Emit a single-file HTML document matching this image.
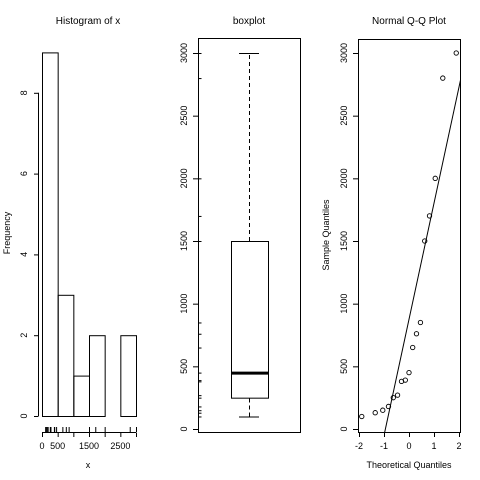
<!DOCTYPE html>
<html><head><meta charset="utf-8"><style>
html,body{margin:0;padding:0;background:#fff;width:480px;height:480px;overflow:hidden;}
svg{display:block;font-family:"Liberation Sans",sans-serif;overflow:hidden;}
</style></head><body>
<svg id="c" width="480" height="480" viewBox="0 0 480 480"></svg>
<script>
const values = [100,130,150,180,250,270,380,390,450,650,760,850,1500,1700,2000,2800,3000];
const histBreaks = [0,500,1000,1500,2000,2500,3000];
const histTicks = [0,500,1500,2500];
const histMinorTicks = [0,500,1000,1500,2000,2500,3000];
const freqTicks = [0,2,4,6,8];
const valueTicks = [0,500,1000,1500,2000,2500,3000];
const qqXTicks = [-2,-1,0,1,2];

const svg = document.getElementById('c');
const NS = 'http://www.w3.org/2000/svg';
function el(tag, attrs, parent){const e=document.createElementNS(NS,tag);for(const k in attrs)e.setAttribute(k,attrs[k]);(parent||svg).appendChild(e);return e;}
function line(x1,y1,x2,y2,p,extra){return el('line',Object.assign({x1,y1,x2,y2,stroke:'#000','stroke-width':1},extra||{}),p);}
function text(x,y,s,p,extra){const t=el('text',Object.assign({x,y,'font-size':9,'text-anchor':'middle'},extra||{}),p);t.textContent=s;return t;}
function rtext(x,y,s,p){return text(x,y,s,p,{transform:`rotate(-90 ${x} ${y})`});}

// ---- histogram
const g1 = el('g',{});


const hx = v => 42 + v*(94/3000);
const hy = f => 416 - f*40.4;
const counts = [];
for(let i=0;i<histBreaks.length-1;i++){counts.push(values.filter(v=> i===0 ? v>=histBreaks[i]&&v<=histBreaks[i+1] : v>histBreaks[i]&&v<=histBreaks[i+1]).length);}
counts.forEach((c,i)=>{
  const r = el('rect',{x:hx(histBreaks[i])+0.5,y:hy(c)+0.5,width:hx(histBreaks[i+1])-hx(histBreaks[i]),height:hy(0)-hy(c),fill:'none',stroke:'#000'},g1);
  
  
});
const hya = el('g',{},g1);


line(38.5,hy(0),38.5,hy(8),hya);
freqTicks.forEach(f=>{line(34,hy(f)+0.5,38.5,hy(f)+0.5,hya);rtext(27,hy(f),String(f),hya);});
const hxa = el('g',{},g1);


line(hx(0),432.5,hx(3000),432.5,hxa);
histMinorTicks.forEach(v=>line(hx(v)+0.5,432.5,hx(v)+0.5,437,hxa));
histTicks.forEach(v=>text(hx(v),449,String(v),hxa));
values.forEach(v=>line(hx(v)+0.5,427,hx(v)+0.5,432,hxa));
text(88,468,'x',g1);
rtext(10,233,'Frequency',g1);
text(88,24,'Histogram of x',g1,{'font-size':10});

// ---- boxplot
const g2 = el('g',{});


const by = v => 429 - v*(376/3000);
const s = values.slice().sort((a,b)=>a-b);
const n = s.length;
const med = s[(n-1)/2];
const hingeIdx = Math.floor((n+1)/2+1)/2;
const h1 = s[Math.floor(hingeIdx)-1], h2 = s[n-Math.floor(hingeIdx)];
const wlo = s[0], whi = s[n-1];
el('rect',{x:198.5,y:38.5,width:102,height:394,fill:'none',stroke:'#000'},g2);
const cx=249.5;
line(cx,by(h2),cx,by(whi),g2,{'stroke-dasharray':'4,3'});
line(cx,by(wlo),cx,by(h1),g2,{'stroke-dasharray':'4,3'});
line(239,by(whi)+0.5,259,by(whi)+0.5,g2);
line(239,by(wlo)+0.5,259,by(wlo)+0.5,g2);
const bx = el('rect',{x:231.5,y:by(h2)+0.5,width:37,height:by(h1)-by(h2),fill:'none',stroke:'#000'},g2);


line(231.5,by(med)+0.5,268.5,by(med)+0.5,g2,{'stroke-width':3});
const bya = el('g',{},g2);


valueTicks.forEach(v=>{line(193,by(v)+0.5,198.5,by(v)+0.5,bya);rtext(187,by(v),String(v),bya);});
values.forEach(v=>line(198.5,by(v)+0.5,201.5,by(v)+0.5,bya));
text(249,24,'boxplot',g2,{'font-size':10});

// ---- QQ plot
const g3 = el('g',{});


function qnorm(p){
  const a=[-39.6968302866538,220.946098424521,-275.928510446969,138.357751867269,-30.6647980661472,2.50662827745924];
  const b=[-54.4760987982241,161.585836858041,-155.698979859887,66.8013118877197,-13.2806815528857];
  const c=[-0.00778489400243029,-0.322396458041136,-2.40075827716184,-2.54973253934373,4.37466414146497,2.93816398269878];
  const d=[0.00778469570904146,0.32246712907004,2.445134137143,3.75440866190742];
  let q,r;
  if(p<0.02425){q=Math.sqrt(-2*Math.log(p));return (((((c[0]*q+c[1])*q+c[2])*q+c[3])*q+c[4])*q+c[5])/((((d[0]*q+d[1])*q+d[2])*q+d[3])*q+1);}
  if(p>1-0.02425){q=Math.sqrt(-2*Math.log(1-p));return -(((((c[0]*q+c[1])*q+c[2])*q+c[3])*q+c[4])*q+c[5])/((((d[0]*q+d[1])*q+d[2])*q+d[3])*q+1);}
  q=p-0.5;r=q*q;return (((((a[0]*r+a[1])*r+a[2])*r+a[3])*r+a[4])*r+a[5])*q/(((((b[0]*r+b[1])*r+b[2])*r+b[3])*r+b[4])*r+1);
}
const qx = t => 409 + t*25;
const qy = by;
el('rect',{x:358.5,y:39.5,width:102,height:393,fill:'none',stroke:'#000'},g3);
const quant = (arr,p)=>{const h=(arr.length-1)*p;const l=Math.floor(h);return arr[l]+(h-l)*(arr[Math.min(l+1,arr.length-1)]-arr[l]);};
const yq1=quant(s,0.25), yq3=quant(s,0.75), xq1=qnorm(0.25), xq3=qnorm(0.75);
const slope=(yq3-yq1)/(xq3-xq1), icpt=yq1-slope*xq1;
// clip line to frame manually
const tMin=(358.5-409)/25, tMax=(460.5-409)/25;
const vMin=(429-432.5)*3000/376, vMax=(429-39.5)*3000/376;
let t0=tMin, t1=tMax;
const tv0=(vMin-icpt)/slope, tv1=(vMax-icpt)/slope;
t0=Math.max(t0,Math.min(tv0,tv1)); t1=Math.min(t1,Math.max(tv0,tv1));
const ql = line(qx(t0),qy(icpt+slope*t0),qx(t1),qy(icpt+slope*t1),g3);


s.forEach((v,i)=>{
  const t=qnorm((i+1-0.5)/n);
  const c=el('circle',{cx:qx(t),cy:qy(v),r:2.2,fill:'none',stroke:'#000','stroke-width':0.9},g3);
  
  
});
const qya = el('g',{},g3);


valueTicks.forEach(v=>{line(353,qy(v)+0.5,358.5,qy(v)+0.5,qya);rtext(347,qy(v),String(v),qya);});
const qxa = el('g',{},g3);


qqXTicks.forEach(t=>{line(qx(t)+0.5,432.5,qx(t)+0.5,437,qxa);text(qx(t),449,String(t),qxa);});
text(409,468,'Theoretical Quantiles',g3);
rtext(329,235,'Sample Quantiles',g3);
text(409,24,'Normal Q-Q Plot',g3,{'font-size':10});
</script>
</body></html>
